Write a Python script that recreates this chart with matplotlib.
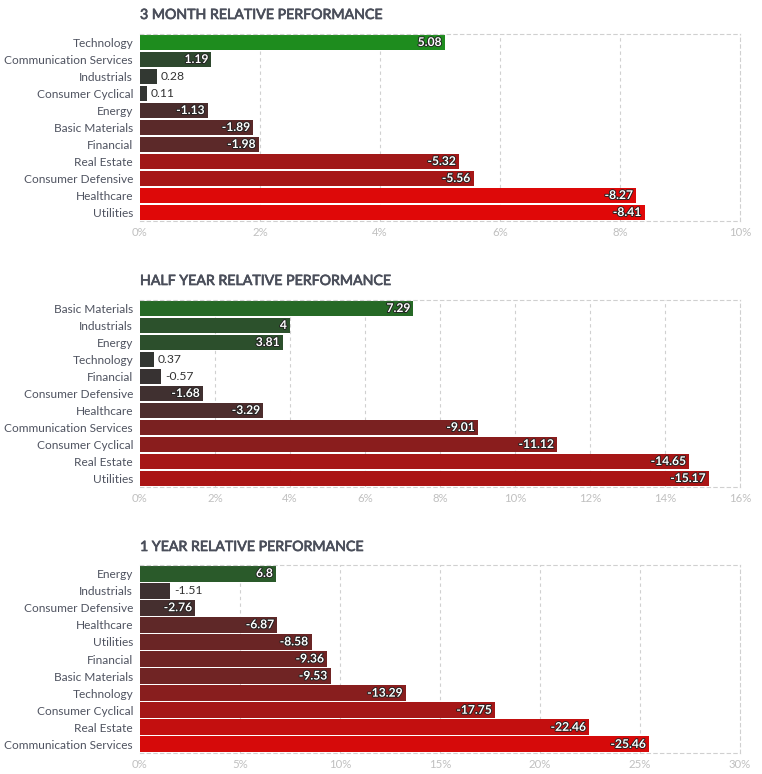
import matplotlib
matplotlib.use("Agg")
import matplotlib.pyplot as plt
import matplotlib.patheffects as pe
import numpy as np

plt.rcParams['font.family'] = ['Lato', 'DejaVu Sans']

# 3 month
m3_sectors = ["Technology", "Communication Services", "Industrials", "Consumer Cyclical",
              "Energy", "Basic Materials", "Financial", "Real Estate",
              "Consumer Defensive", "Healthcare", "Utilities"]
m3_values = [5.08, 1.19, 0.28, 0.11, -1.13, -1.89, -1.98, -5.32, -5.56, -8.27, -8.41]
m3_ticks = [0, 2, 4, 6, 8, 10]

# half year
m6_sectors = ["Basic Materials", "Industrials", "Energy", "Technology", "Financial",
              "Consumer Defensive", "Healthcare", "Communication Services",
              "Consumer Cyclical", "Real Estate", "Utilities"]
m6_values = [7.29, 4, 3.81, 0.37, -0.57, -1.68, -3.29, -9.01, -11.12, -14.65, -15.17]
m6_ticks = [0, 2, 4, 6, 8, 10, 12, 14, 16]

# 1 year
y1_sectors = ["Energy", "Industrials", "Consumer Defensive", "Healthcare", "Utilities",
              "Financial", "Basic Materials", "Technology", "Consumer Cyclical",
              "Real Estate", "Communication Services"]
y1_values = [6.8, -1.51, -2.76, -6.87, -8.58, -9.36, -9.53, -13.29, -17.75, -22.46, -25.46]
y1_ticks = [0, 5, 10, 15, 20, 25, 30]

titles = ["3 MONTH RELATIVE PERFORMANCE", "HALF YEAR RELATIVE PERFORMANCE",
          "1 YEAR RELATIVE PERFORMANCE"]

BASE = np.array([0x33, 0x33, 0x33]) / 255
RED = np.array([0xe0, 0x08, 0x08]) / 255
GREEN = np.array([0x1e, 0x8c, 0x1e]) / 255


def bar_color(v, green_full, red_full):
    if v >= 0:
        f = min(v / green_full, 1.0)
        return BASE + (GREEN - BASE) * f
    f = min(-v / red_full, 1.0)
    return BASE + (RED - BASE) * f


fig = plt.figure(figsize=(7.62, 7.74), dpi=100)
W, H = 762, 774

panels = [
    (m3_sectors, m3_values, m3_ticks, 34, 221, 14, 5.0, 8.4),
    (m6_sectors, m6_values, m6_ticks, 300, 487, 280, 12.0, 22.0),
    (y1_sectors, y1_values, y1_ticks, 565, 753, 546, 15.5, 27.0),
]

for i, (sectors, values, ticks, top, bottom, title_y, gfull, rfull) in enumerate(panels):
    ax = fig.add_axes([140 / W, 1 - bottom / H, 600 / W, (bottom - top) / H])
    y = np.arange(len(sectors))
    mags = np.abs(values)
    colors = [bar_color(v, gfull, rfull) for v in values]
    ax.barh(y, mags, height=0.94, color=colors, zorder=2)
    ax.set_ylim(len(sectors) - 0.5, -0.5)
    ax.set_xlim(0, ticks[-1])
    ax.set_xticks(ticks)
    ax.set_xticklabels([f"{t}%" for t in ticks], color="#c0c0c0", fontsize=8.2)
    ax.set_yticks(y)
    ax.set_yticklabels(sectors, color="#4f5360", fontsize=8.6)
    ax.tick_params(axis="both", length=0)
    ax.tick_params(axis="y", pad=5)
    ax.tick_params(axis="x", pad=4)
    ax.spines["left"].set_visible(False)
    for s in ["top", "right", "bottom"]:
        ax.spines[s].set_linestyle((0, (3, 3)))
        ax.spines[s].set_color("#d0d0d0")
        ax.spines[s].set_linewidth(0.8)
    for t in ticks[1:-1]:
        ax.axvline(t, color="#d0d0d0", linestyle=(0, (3, 3)), linewidth=0.8, zorder=1)

    px_per_unit = 600 / ticks[-1]
    for yy, v, m in zip(y, values, mags):
        label = f"{v:g}"
        if m * px_per_unit > 45:
            ax.text(m - 3 / px_per_unit, yy, label, ha="right", va="center",
                    color="white", fontsize=8.7, fontweight="bold", zorder=3,
                    path_effects=[pe.withStroke(linewidth=1.3, foreground="#222222")])
        else:
            ax.text(m + 4 / px_per_unit, yy, label, ha="left", va="center",
                    color="#333333", fontsize=8.7, zorder=3)

    fig.text(140 / W, 1 - (title_y + 1) / H, titles[i], ha="left", va="center",
             color="#4a4e5a", fontsize=10.2,
             path_effects=[pe.withStroke(linewidth=0.5, foreground="#4a4e5a")])

fig.savefig("out.png", dpi=100)
